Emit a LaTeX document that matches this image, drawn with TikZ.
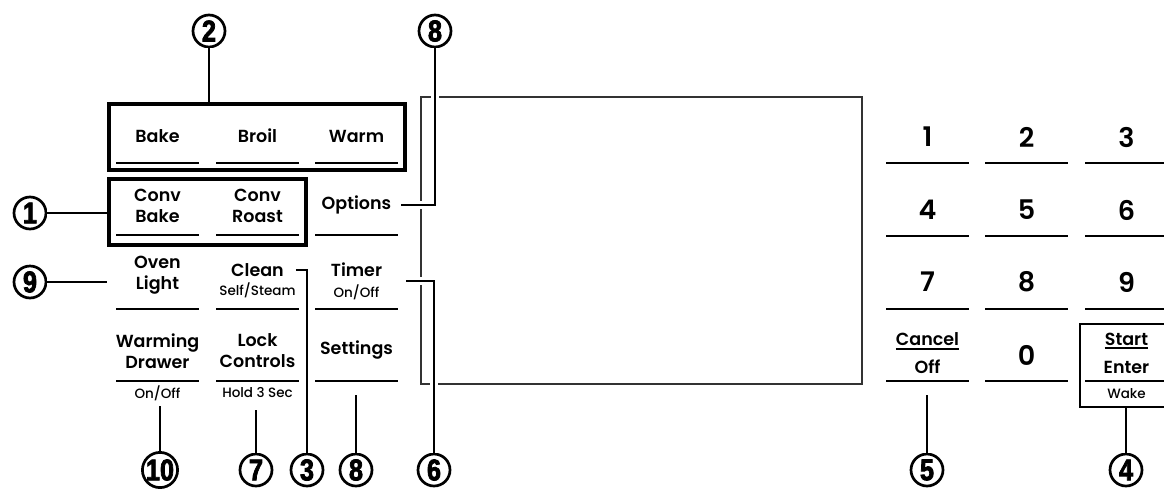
\documentclass[tikz,border=0pt]{standalone}
\usepackage{fontspec}
\setmainfont{Poppins SemiBold}
\newfontfamily\subfont{Poppins Medium}
\newfontfamily\numfont{Liberation Sans}[FakeStretch=0.84, FakeBold=2.5]

\tikzset{
    btn/.style={inner sep=0pt, align=center, font=\fontsize{17.5}{21}\selectfont},
    sub/.style={inner sep=0pt, font=\subfont\fontsize{13.5}{14}\selectfont},
    key/.style={inner sep=0pt, font=\fontsize{27}{27}\selectfont},
    callout/.style={circle, draw, line width=2.7pt, minimum size=32pt, inner sep=0pt,
        font=\numfont\bfseries\fontsize{30}{30}\selectfont},
    leader/.style={line width=2.3pt, preaction={draw=white, line width=8pt}},
    rule/.style={line width=2pt},
    group/.style={draw, line width=4pt, inner sep=0pt},
    screen/.style={line width=1.3pt, draw=black!80},
}

\begin{document}
\begin{tikzpicture}[x=1pt,y=-1pt]
        \useasboundingbox (0,0) rectangle (1164,488);
        \clip (0,0) rectangle (1164,488);

        % display window
        \draw[screen] (421,97) rectangle (862,384);

        % callouts
        \node[callout] (n2) at (209,31) {2};
        \node[callout] (n8a) at (435,31) {8};
        \node[callout] (n1) at (30,213) {1};
        \node[callout] (n9) at (30,282) {9};
        \node[callout] (n10) at (160,470) {10};
        \node[callout] (n7) at (256,470) {7};
        \node[callout] (n3) at (307,470) {3};
        \node[callout] (n8b) at (356,470) {8};
        \node[callout] (n6) at (434,470) {6};
        \node[callout] (n5) at (927,470) {5};
        \node[callout] (n4) at (1126,470) {4};

        % left pad
        \node[btn] (bake) at (157.5,136) {Bake};
        \node[btn] (broil) at (257.5,136) {Broil};
        \node[btn] (warm) at (356.5,136) {Warm};
        \node[btn] (convbake) at (157.5,206) {Conv\\Bake};
        \node[btn] (convroast) at (257.5,206) {Conv\\Roast};
        \node[btn] (options) at (356.5,205) {Options};
        \node[btn] (oven) at (157.5,275) {Oven\\Light};
        \node[btn] (clean) at (257.5,270) {Clean};
        \node[sub] (cleansub) at (257.5,290) {Self/Steam};
        \node[btn] (timer) at (356.5,281) {Timer\\{\subfont\fontsize{13.5}{14}\selectfont On/Off}};
        \node[btn] (drawer) at (157.5,351) {Warming\\Drawer};
        \node[btn] (lock) at (257.5,351) {Lock\\Controls};
        \node[btn] (settings) at (356.5,350) {Settings};
        \node[sub] (drawersub) at (157.5,393) {On/Off};
        \node[sub] (locksub) at (257.5,393) {Hold 3 Sec};
        \foreach \x in {116,216,315}
            \foreach \y in {163,235,309,381}
                \draw[rule] (\x,\y) -- ++(83,0);
        \node[group, minimum width=296pt, minimum height=66pt] (grp2) at (257,137) {};
        \node[group, minimum width=197pt, minimum height=66pt] (grp1) at (207.5,212) {};

        % number pad
        \foreach \k/\x/\y in {1/927.5/137, 2/1026.5/137, 3/1126.5/137,
                              4/927.5/210, 5/1026.5/210, 6/1126.5/210,
                              7/927.5/282, 8/1026.5/282, 9/1126.5/282, 0/1026.5/355}
            \node[key] (k\k) at (\x,\y) {\k};
        \foreach \x in {886,985,1085}
            \foreach \y in {163,236,309,381}
                \draw[rule] (\x,\y) -- ++(83,0);
        \node[btn] (cancel) at (927.5,339) {Cancel};
        \node[btn] (off) at (927.5,367) {Off};
        \draw[rule] ([yshift=-3pt]cancel.south west) -- ([yshift=-3pt]cancel.south east);
        \node[draw, line width=1.2pt, minimum width=100pt, minimum height=83pt, inner sep=0pt] (startbox) at (1130,365.5) {};
        \node[btn] (start) at (1126.5,339) {Start};
        \node[btn] (enter) at (1126.5,367) {Enter};
        \node[sub] (wake) at (1126.5,394) {Wake};
        \draw[rule] ([yshift=-3pt]start.south west) -- ([yshift=-3pt]start.south east);

        % leaders
        \draw[leader] (n2) -- (n2 |- grp2.north);
        \draw[leader] ([xshift=10pt]options.east) -| (n8a);
        \draw[leader] (n1) -- (n1 -| grp1.west);
        \draw[leader] (n9) -- (n9 -| grp1.west);
        \draw[leader] ([xshift=12pt]clean.east) -| (n3);
        \draw[leader] ([xshift=24pt]timer.east) -| (n6);
        \draw[leader, shorten >=5pt] (n10) -- (n10 |- drawersub.south);
        \draw[leader, shorten >=12pt] (n7) -- (n7 |- locksub.south);
        \coordinate (s8) at (356,395);
        \draw[leader] (n8b) -- (s8);
        \draw[leader, shorten >=21pt] (n5) -- (n5 |- off.south);
        \draw[leader] (n4) -- (n4 |- startbox.south);
\end{tikzpicture}
\end{document}
